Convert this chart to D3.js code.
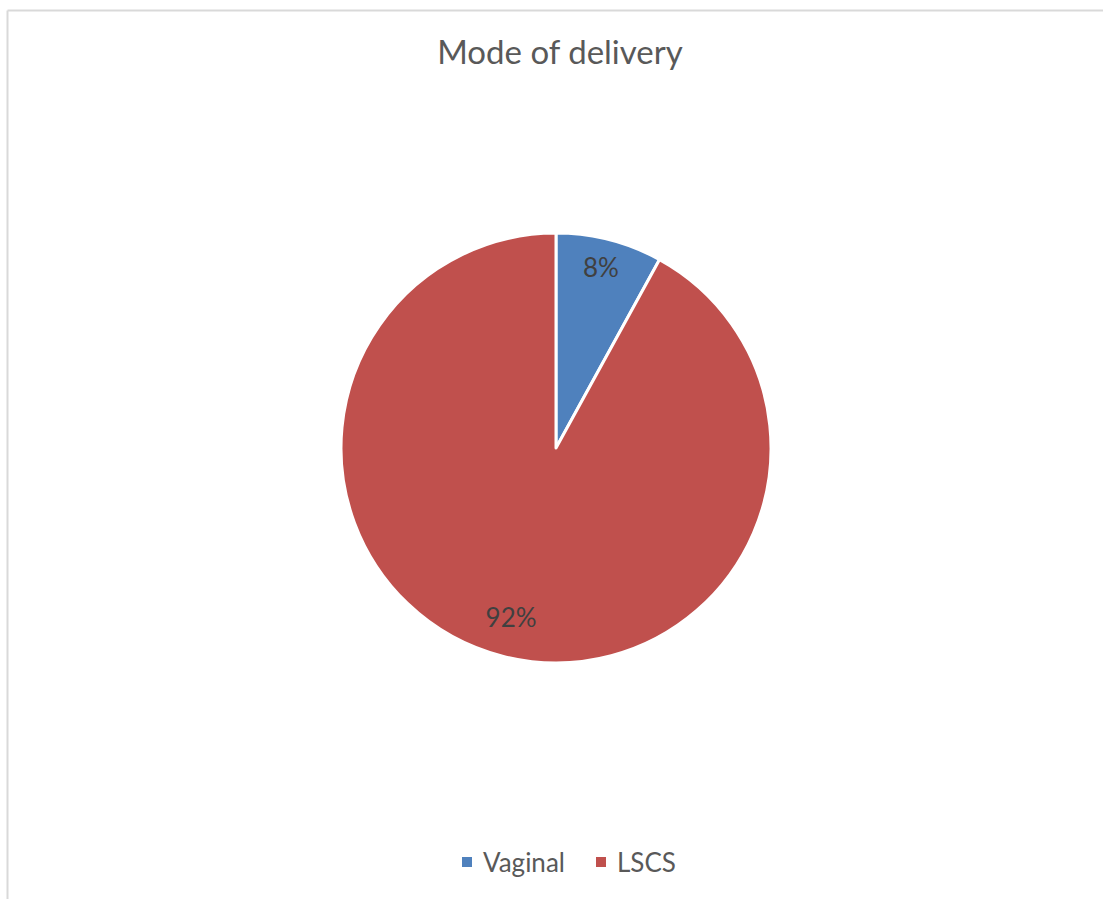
<!DOCTYPE html>
<html>
<head>
<meta charset="utf-8">
<script src="https://cdn.jsdelivr.net/npm/d3@7"></script>
<style>
  html, body { margin: 0; padding: 0; background: #fff; }
  svg { display: block; }
</style>
</head>
<body>
<svg id="chart" width="1103" height="899"></svg>
<script>
// Delivery mode shares (percent)
const categories = ["Vaginal", "LSCS"];
const shares = [8, 92];
const colors = ["#4F81BD", "#C0504D"];
const title = "Mode of delivery";

const svg = d3.select("#chart");
const W = 1103, H = 899;
const font = "Lato, 'Open Sans', sans-serif";

// chart frame (top and left edges visible)
svg.append("line").attr("x1", 7.5).attr("x2", W).attr("y1", 10.5).attr("y2", 10.5)
  .attr("stroke", "#d9d9d9").attr("stroke-width", 2);
svg.append("line").attr("x1", 7.5).attr("x2", 7.5).attr("y1", 10.5).attr("y2", H)
  .attr("stroke", "#d9d9d9").attr("stroke-width", 2);

// title
svg.append("text")
  .attr("x", 560).attr("y", 64)
  .attr("text-anchor", "middle")
  .attr("font-family", font).attr("font-size", 33)
  .attr("fill", "#595959")
  .text(title);

// pie
const cx = 556, cy = 448, R = 215;
const color = d3.scaleOrdinal().domain(categories).range(colors);
const pie = d3.pie().sort(null).value(d => d.value);
const data = categories.map((c, i) => ({ name: c, value: shares[i] }));
const arcs = pie(data);
const arc = d3.arc().innerRadius(0).outerRadius(R);
const labelArc = d3.arc().innerRadius(R * 0.84).outerRadius(R * 0.84);

const g = svg.append("g").attr("transform", `translate(${cx},${cy})`);
g.selectAll("path.slice").data(arcs).enter().append("path")
  .attr("class", "slice")
  .attr("d", arc)
  .attr("fill", d => color(d.data.name))
  .attr("stroke", "#fff").attr("stroke-width", 3)
  .attr("stroke-linejoin", "round");

g.selectAll("text.lbl").data(arcs).enter().append("text")
  .attr("class", "lbl")
  .attr("transform", d => {
    const [x, y] = labelArc.centroid(d);
    return `translate(${x},${y - 6})`;
  })
  .attr("text-anchor", "middle")
  .attr("dominant-baseline", "central")
  .attr("font-family", font).attr("font-size", 26)
  .attr("fill", "#404040")
  .text(d => d.data.value + "%");

// legend
const legend = svg.append("g").attr("transform", "translate(462,862)");
const items = [{ x: 0 }, { x: 134 }];
categories.forEach((c, i) => {
  const it = legend.append("g").attr("transform", `translate(${items[i].x},0)`);
  it.append("rect").attr("x", 0).attr("y", -5).attr("width", 10).attr("height", 10)
    .attr("fill", color(c));
  it.append("text").attr("x", 21).attr("y", 0)
    .attr("dominant-baseline", "central")
    .attr("font-family", font).attr("font-size", 26)
    .attr("fill", "#595959")
    .text(c);
});
</script>
</body>
</html>
